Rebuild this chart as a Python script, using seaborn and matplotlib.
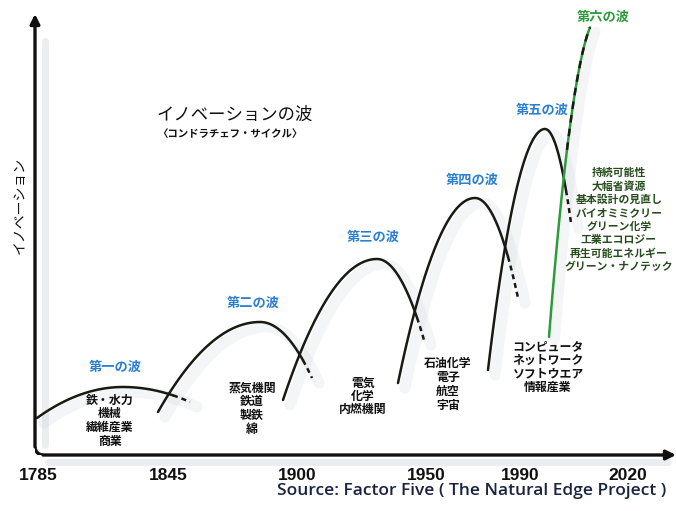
import numpy as np
import pandas as pd
import matplotlib.pyplot as plt
from matplotlib.patches import Arc
import seaborn as sns

sns.set_theme(style="white")
plt.rcParams['font.family'] = ['Noto Sans CJK JP', 'DejaVu Sans']

# x axis (schematic timeline, not linear in years)
tick_years = ['1785', '1845', '1900', '1950', '1990', '2020']
tick_pos = [38, 168, 297, 426, 520, 628]

# the five black waves: start, peak, end of solid part, end of dotted tail
wave_start_x = [37, 158, 283, 398, 488]
wave_start_y = [93, 99, 111, 128, 141]
wave_peak_x = [123, 260, 377, 475, 545]
wave_peak_y = [124, 189, 252, 313, 382]
wave_solid_end_x = [173, 303, 417, 508, 566]
wave_end_x = [190, 312, 424, 518, 571]
wave_end_y = [109, 133, 171, 213, 288]

# sixth (green) wave, only the rising side
green_start = (549, 174)
green_peak = (600, 496)
green_solid_end_x = 567
green_end_x = 590

wave_names = ['第一の波', '第二の波', '第三の波', '第四の波', '第五の波']
name_x = [115, 253, 373, 472, 542]
name_y = [144, 208, 274, 331, 401]

items_1 = ['鉄・水力', '機械', '繊維産業', '商業']
items_2 = ['蒸気機関', '鉄道', '製鉄', '綿']
items_3 = ['電気', '化学', '内燃機関']
items_4 = ['石油化学', '電子', '航空', '宇宙']
items_5 = ['コンピュータ', 'ネットワーク', 'ソフトウエア', '情報産業']
items_6 = ['持続可能性', '大幅省資源', '基本設計の見直し', 'バイオミミクリー',
           'グリーン化学', '工業エコロジー', '再生可能エネルギー', 'グリーン・ナノテック']
item_groups = [items_1, items_2, items_3, items_4, items_5, items_6]
item_x = [110, 252, 363, 448, 548, 619]
item_top_y = [111, 123, 128, 148, 164, 338]
item_step = [13.7, 13.8, 13.3, 14.2, 13.4, 13.4]

BLUE = '#2a7fd2'
GREEN = '#2f9a3c'
DARK_GREEN = '#274d1e'


def wave_frame(x0, y0, xp, yp, xe, ye, x_from, x_to):
    x = np.linspace(x_from, x_to, 120)
    k = (yp - ye) / (xe - xp) ** 2
    y = np.where(x <= xp,
                 yp - (yp - y0) * ((x - xp) / (xp - x0)) ** 2,
                 yp - k * (x - xp) ** 2)
    return pd.DataFrame({'x': x, 'y': y})


def green_frame(x_from, x_to):
    x = np.linspace(x_from, x_to, 100)
    x0, y0 = green_start
    xp, yp = green_peak
    y = yp - (yp - y0) * ((x - xp) / (xp - x0)) ** 2
    return pd.DataFrame({'x': x, 'y': y})


fig = plt.figure(figsize=(6.76, 5.11), dpi=100)
ax = fig.add_axes([35 / 676, 56 / 511, 641 / 676, 440 / 511])
ax.set_xlim(35, 676)
ax.set_ylim(56, 496)
for s in ax.spines.values():
    s.set_visible(False)

# soft shadows
ax.plot([45, 45], [66, 470], color='#d4d8e0', lw=5, alpha=0.45, solid_capstyle='round')
ax.plot([48, 668], [49, 49], color='#d4d8e0', lw=5, alpha=0.45, clip_on=False)
for i in range(5):
    sh = wave_frame(wave_start_x[i], wave_start_y[i], wave_peak_x[i], wave_peak_y[i],
                    wave_end_x[i], wave_end_y[i], wave_start_x[i], wave_end_x[i])
    ax.plot(sh['x'] + 7, sh['y'] - 5, color='#c9cdd8', lw=8, alpha=0.2,
            solid_capstyle='round')
sh = green_frame(green_start[0], green_end_x)
ax.plot(sh['x'] + 6, sh['y'] - 4, color='#c9cdd8', lw=7, alpha=0.18)

# axes with arrows and rounded corner
ax.add_patch(Arc((43, 64), 16, 16, theta1=180, theta2=270, lw=2.4, color='#111111'))
ax.annotate('', xy=(676, 56), xytext=(43, 56), annotation_clip=False,
            arrowprops=dict(arrowstyle='-|>', lw=2.4, color='#111111',
                            mutation_scale=14, shrinkA=0, shrinkB=0))
ax.annotate('', xy=(35, 497), xytext=(35, 64), annotation_clip=False,
            arrowprops=dict(arrowstyle='-|>', lw=2.4, color='#111111',
                            mutation_scale=14, shrinkA=0, shrinkB=0))

# black waves
for i in range(5):
    solid = wave_frame(wave_start_x[i], wave_start_y[i], wave_peak_x[i], wave_peak_y[i],
                       wave_end_x[i], wave_end_y[i], wave_start_x[i], wave_solid_end_x[i])
    tail = wave_frame(wave_start_x[i], wave_start_y[i], wave_peak_x[i], wave_peak_y[i],
                      wave_end_x[i], wave_end_y[i], wave_solid_end_x[i], wave_end_x[i])
    sns.lineplot(data=solid, x='x', y='y', sort=False, estimator=None, ax=ax,
                 color='#1a1a14', lw=1.8)
    sns.lineplot(data=tail, x='x', y='y', sort=False, estimator=None, ax=ax,
                 color='#1a1a14', lw=1.8, linestyle=(0, (2, 1.6)))

# green wave
g_all = green_frame(green_start[0], green_end_x)
g_tail = green_frame(green_solid_end_x, green_end_x)
sns.lineplot(data=g_all, x='x', y='y', sort=False, estimator=None, ax=ax,
             color=GREEN, lw=1.8)
sns.lineplot(data=g_tail, x='x', y='y', sort=False, estimator=None, ax=ax,
             color='#1a1a14', lw=1.8, linestyle=(0, (3, 2.5)))

# title
ax.text(157, 396, 'イノベーションの波', fontsize=12.5, ha='left', va='center', color='#111111')
ax.text(157, 377, '〈コンドラチェフ・サイクル〉', fontsize=7.5, fontweight='bold',
        ha='left', va='center', color='#111111')

# wave names
for name, x, y in zip(wave_names, name_x, name_y):
    ax.text(x, y, name, fontsize=9.5, fontweight='bold', color=BLUE, ha='center', va='center')
ax.text(603, 494, '第六の波', fontsize=9.5, fontweight='bold', color=GREEN,
        ha='center', va='center')

# industries of each wave
for g, (items, x, y0, step) in enumerate(zip(item_groups, item_x, item_top_y, item_step)):
    col = DARK_GREEN if g == 5 else '#111111'
    size = 7.8 if g == 5 else 8.6
    for j, line in enumerate(items):
        ax.text(x, y0 - j * step, line, fontsize=size, fontweight='bold', color=col,
                ha='center', va='center')

# axis labels
ax.text(20, 306, 'イノベーション', rotation=90, fontsize=10, ha='center', va='center',
        color='#111111')
ax.set_xticks(tick_pos, tick_years)
for t in ax.get_xticklabels():
    t.set_fontfamily(['Liberation Sans', 'DejaVu Sans'])
    t.set_fontweight('bold')
    t.set_fontsize(12.5)
    t.set_color('#111111')
ax.tick_params(axis='x', length=0, pad=9)
ax.set_yticks([])
ax.set_xlabel('')
ax.set_ylabel('')

fig.text(666 / 676, 1 - 491 / 511, 'Source: Factor Five ( The Natural Edge Project )',
         ha='right', va='center', fontsize=12.5, family=['Open Sans', 'DejaVu Sans'],
         fontweight='semibold', color='#1c2340')

fig.savefig('out.png', dpi=100)
